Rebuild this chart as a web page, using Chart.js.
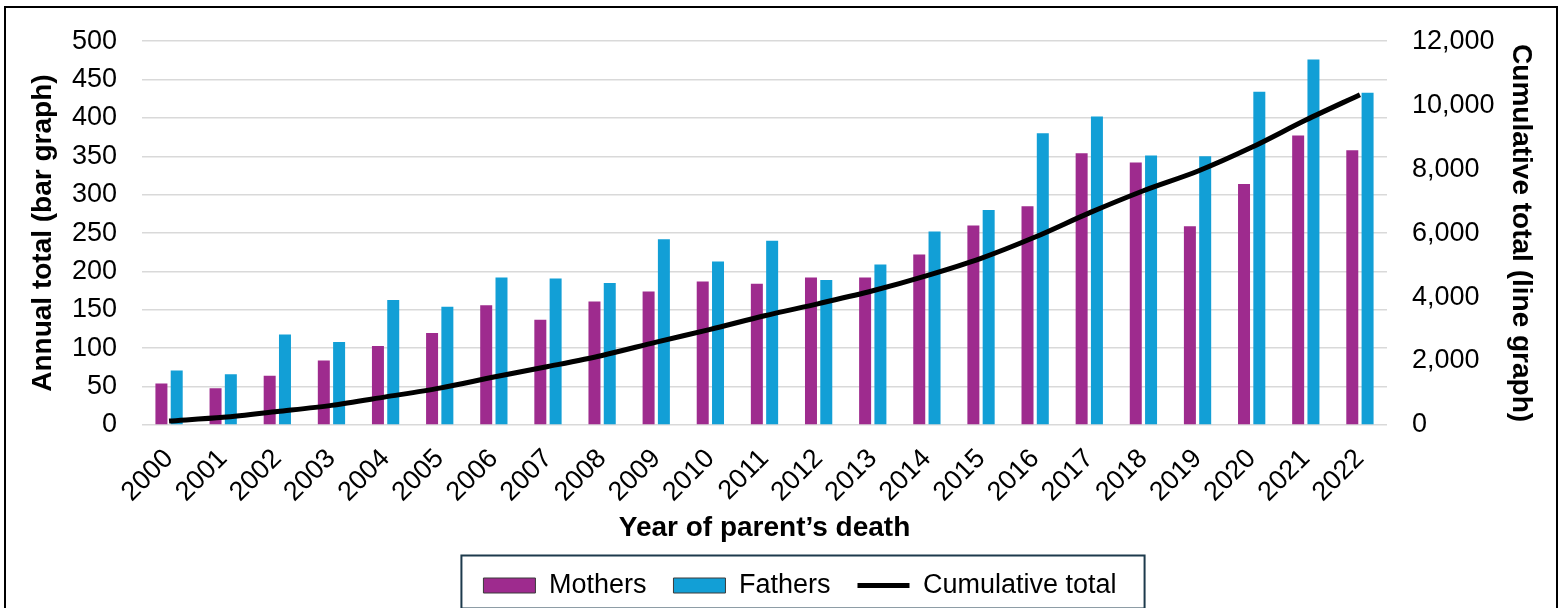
<!DOCTYPE html>
<html>
<head>
<meta charset="utf-8">
<script src="https://cdn.jsdelivr.net/npm/chart.js@4.4.0/dist/chart.umd.min.js"></script>
<style>
  html, body { margin: 0; padding: 0; background: #fff; overflow: hidden; }
  #frame { position: absolute; left: 4px; top: 6px; width: 1554px; height: 700px; border: 2px solid #000; box-sizing: border-box; }
  #wrap { position: absolute; left: 0; top: 0; width: 1558px; height: 609px; }
</style>
</head>
<body>
<div id="frame"></div>
<div id="wrap"><canvas id="chart" width="1558" height="609"></canvas></div>
<script>
// years of parent's death
const years = ['2000', '2001', '2002', '2003', '2004', '2005', '2006', '2007', '2008', '2009', '2010', '2011',
               '2012', '2013', '2014', '2015', '2016', '2017', '2018', '2019', '2020', '2021', '2022'];

// annual totals (left axis, bars)
const mothers = [54, 48, 64, 84, 103, 120, 156, 137, 161, 174, 187, 184, 192, 192, 222, 260, 285, 354, 342, 259, 314, 377, 358];
const fathers = [71, 66, 118, 108, 163, 154, 192, 191, 185, 242, 213, 240, 189, 209, 252, 280, 380, 402, 351, 350, 434, 476, 433];

// cumulative total (right axis, line)
const cumulative = [125, 239, 421, 613, 879, 1153, 1501, 1829, 2175, 2591, 2991, 3415,
                    3796, 4197, 4671, 5211, 5876, 6632, 7325, 7934, 8682, 9535, 10326];

const leftTicks = { min: 0, max: 500, step: 50 };
const rightTicks = { min: 0, max: 12000, step: 2000 };

const FONT = "'Liberation Sans', Arial, sans-serif";

// draws the box around the legend
const legendBorder = {
    id: 'legendBorder',
    afterDraw(chart) {
        const boxes = chart.legend.legendHitBoxes;
        if (!boxes || !boxes.length) return;
        const left = Math.min(...boxes.map(b => b.left));
        const right = Math.max(...boxes.map(b => b.left + b.width));
        const cy = boxes[0].top + boxes[0].height / 2;
        const ctx = chart.ctx;
        ctx.save();
        ctx.strokeStyle = '#1d3a4c';
        ctx.lineWidth = 2;
        ctx.strokeRect(left - 22, cy - 30, right - left + 50, 53);
        ctx.restore();
    }
};

const ctx = document.getElementById('chart').getContext('2d');
new Chart(ctx, {
    type: 'bar',
    data: {
        labels: years,
        datasets: [
            {
                label: 'Mothers',
                data: mothers,
                backgroundColor: '#9e2b8e',
                yAxisID: 'y',
                order: 1,
                categoryPercentage: 0.565,
                barPercentage: 0.784
            },
            {
                label: 'Fathers',
                data: fathers,
                backgroundColor: '#129fd6',
                yAxisID: 'y',
                order: 1,
                categoryPercentage: 0.565,
                barPercentage: 0.784
            },
            {
                type: 'line',
                label: 'Cumulative total',
                data: cumulative,
                borderColor: '#000',
                backgroundColor: '#000',
                borderWidth: 5,
                pointRadius: 0,
                tension: 0.3,
                fill: false,
                yAxisID: 'y1',
                order: 0
            }
        ]
    },
    options: {
        responsive: false,
        animation: false,
        layout: { padding: { left: 52, right: 10, top: 41, bottom: 0 } },
        plugins: {
            tooltip: { enabled: false },
            legend: {
                position: 'bottom',
                labels: {
                    usePointStyle: true,
                    pointStyleWidth: 52,
                    boxHeight: 15,
                    padding: 27,
                    color: '#000',
                    font: { family: FONT, size: 27 },
                    generateLabels: chart => chart.data.datasets.map((ds, i) => ({
                        text: ds.label,
                        fillStyle: ds.backgroundColor,
                        strokeStyle: ds.type === 'line' ? '#000' : '#3a3a3a',
                        lineWidth: ds.type === 'line' ? 5 : 1,
                        pointStyle: ds.type === 'line' ? 'line' : 'rect',
                        fontColor: '#000',
                        hidden: false,
                        datasetIndex: i
                    }))
                }
            }
        },
        scales: {
            x: {
                grid: { display: false },
                border: { display: false },
                ticks: {
                    autoSkip: false,
                    maxRotation: 45,
                    minRotation: 45,
                    padding: 10,
                    color: '#000',
                    font: { family: FONT, size: 27 }
                },
                title: {
                    display: true,
                    text: 'Year of parent’s death',
                    color: '#000',
                    padding: 0,
                    font: { family: FONT, size: 28, weight: 'bold' }
                },
                afterFit: scale => { scale.height = 120; }
            },
            y: {
                position: 'left',
                min: leftTicks.min,
                max: leftTicks.max,
                grid: { color: '#d9d9d9', lineWidth: 1.5, drawTicks: false },
                border: { display: false },
                ticks: {
                    stepSize: leftTicks.step,
                    padding: 25,
                    color: '#000',
                    font: { family: FONT, size: 27 }
                },
                title: {
                    display: true,
                    text: 'Annual total (bar graph)',
                    color: '#000',
                    padding: { top: -26, bottom: 0 },
                    font: { family: FONT, size: 28, weight: 'bold' }
                },
                afterFit: scale => { scale.width = 90; }
            },
            y1: {
                position: 'right',
                min: rightTicks.min,
                max: rightTicks.max,
                grid: { drawOnChartArea: false, drawTicks: false },
                border: { display: false },
                ticks: {
                    stepSize: rightTicks.step,
                    padding: 25,
                    color: '#000',
                    font: { family: FONT, size: 27 },
                    callback: v => v.toLocaleString('en-US')
                },
                title: {
                    display: true,
                    text: 'Cumulative total (line graph)',
                    color: '#000',
                    padding: { top: 10, bottom: 0 },
                    font: { family: FONT, size: 28, weight: 'bold' }
                },
                afterFit: scale => { scale.width = 161; }
            }
        }
    },
    plugins: [legendBorder]
});
</script>
</body>
</html>
